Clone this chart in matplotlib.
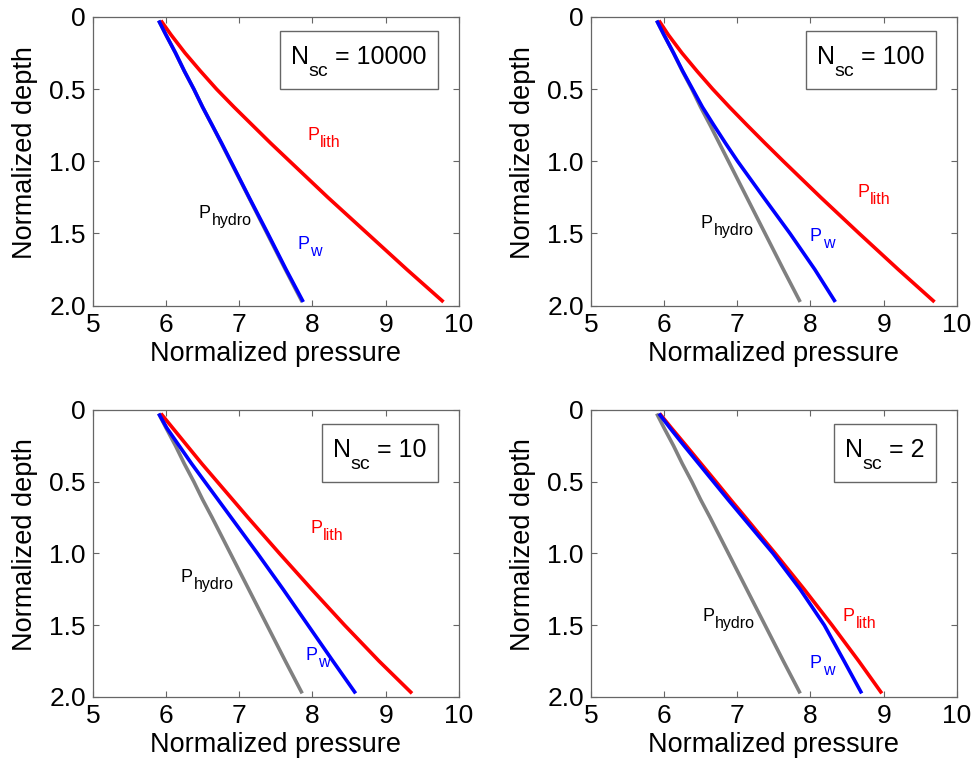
import matplotlib
matplotlib.use("Agg")
import matplotlib.pyplot as plt
from matplotlib.patches import Rectangle

plt.rcParams['font.family'] = ['Liberation Sans', 'DejaVu Sans']

# depth samples (normalized)
depth = [0.025, 0.125, 0.25, 0.375, 0.5, 0.625, 0.75, 0.875, 1.0, 1.25, 1.5, 1.75, 1.975]

# hydrostatic pressure, same in every panel
p_hydro = [5.90, 6.00, 6.13, 6.25, 6.38, 6.50, 6.63, 6.755, 6.88, 7.13, 7.38, 7.63, 7.86]

nsc_labels = ['10000', '100', '10', '2']

p_lith = {
    '10000': [5.93, 6.07, 6.26, 6.47, 6.69, 6.93, 7.18, 7.43, 7.69, 8.21, 8.75, 9.29, 9.79],
    '100':   [5.93, 6.06, 6.245, 6.45, 6.665, 6.895, 7.135, 7.38, 7.63, 8.14, 8.665, 9.20, 9.695],
    '10':    [5.93, 6.09, 6.29, 6.49, 6.70, 6.91, 7.12, 7.335, 7.55, 7.99, 8.44, 8.91, 9.36],
    '2':     [5.94, 6.10, 6.305, 6.507, 6.71, 6.91, 7.115, 7.317, 7.52, 7.915, 8.295, 8.66, 8.975],
}

p_w = {
    '10000': [5.90, 6.00, 6.13, 6.25, 6.38, 6.50, 6.63, 6.76, 6.885, 7.135, 7.39, 7.64, 7.875],
    '100':   [5.90, 6.00, 6.13, 6.255, 6.39, 6.525, 6.68, 6.84, 7.005, 7.36, 7.72, 8.06, 8.34],
    '10':    [5.90, 6.01, 6.18, 6.35, 6.53, 6.71, 6.89, 7.07, 7.25, 7.60, 7.94, 8.28, 8.59],
    '2':     [5.93, 6.08, 6.275, 6.475, 6.675, 6.875, 7.08, 7.285, 7.49, 7.86, 8.19, 8.46, 8.70],
}

# label anchors (x, depth) of the "P" baseline for P_lith, P_hydro, P_w
lab_lith = {'10000': (7.93, 0.85), '100': (8.64, 1.25), '10': (7.97, 0.86), '2': (8.44, 1.47)}
lab_hydro = {'10000': (6.45, 1.39), '100': (6.50, 1.46), '10': (6.20, 1.20), '2': (6.52, 1.47)}
lab_w = {'10000': (7.79, 1.61), '100': (7.99, 1.55), '10': (7.90, 1.74), '2': (7.99, 1.80)}

DPI = 100
fig = plt.figure(figsize=(9.74, 7.67), dpi=DPI)
renderer = fig.canvas.get_renderer()
px2pt = 72.0 / DPI

positions = [
    [0.0953, 0.6016, 0.3758, 0.3763],
    [0.6066, 0.6016, 0.3758, 0.3763],
    [0.0953, 0.0913, 0.3758, 0.3742],
    [0.6066, 0.0913, 0.3758, 0.3742],
]

spine_col = '#666666'


def text_width(ax, s, size):
    t = ax.text(0, 0, s, fontsize=size)
    w = t.get_window_extent(renderer).width
    t.remove()
    return w


def sub_label(ax, x, d, sub, color, size=13, subsize=11.5, drop=7):
    ax.text(x, d, 'P', color=color, fontsize=size, va='baseline', ha='left')
    wP = text_width(ax, 'P', size)
    ax.annotate(sub, xy=(x, d), xycoords='data',
                xytext=((wP + 1) * px2pt, -drop * px2pt), textcoords='offset points',
                color=color, fontsize=subsize, va='baseline', ha='left')


def nsc_box(ax, value):
    # box anchored at top-right corner in axes fraction
    ax_w = ax.get_window_extent(renderer).width
    ax_h = ax.get_window_extent(renderer).height
    right, top = 0.943, 1 - 14 / ax_h
    pad, box_h = 11, 58
    wN = text_width(ax, 'N', 18)
    wsc = text_width(ax, 'sc', 14)
    wrest = text_width(ax, '= ' + value, 18)
    gap = 7
    W = wN + wsc + gap + wrest
    x0 = -(W + pad)
    ax.annotate('N', xy=(right, top), xycoords='axes fraction',
                xytext=(x0 * px2pt, -33 * px2pt), textcoords='offset points',
                fontsize=18, va='baseline', ha='left')
    ax.annotate('sc', xy=(right, top), xycoords='axes fraction',
                xytext=((x0 + wN) * px2pt, -45 * px2pt), textcoords='offset points',
                fontsize=14, va='baseline', ha='left')
    ax.annotate('= ' + value, xy=(right, top), xycoords='axes fraction',
                xytext=((x0 + wN + wsc + gap) * px2pt, -33 * px2pt), textcoords='offset points',
                fontsize=18, va='baseline', ha='left')
    bw = (W + 2 * pad) / ax_w
    bh = box_h / ax_h
    ax.add_patch(Rectangle((right - bw, top - bh), bw, bh, transform=ax.transAxes,
                           fill=False, ec=spine_col, lw=1.0, zorder=5))


for pos, key in zip(positions, nsc_labels):
    ax = fig.add_axes(pos)
    ax.plot(p_hydro, depth, color='#808080', lw=2.6, solid_capstyle='butt')
    ax.plot(p_lith[key], depth, color='#ff0000', lw=2.6, solid_capstyle='butt')
    ax.plot(p_w[key], depth, color='#0000ff', lw=2.6, solid_capstyle='butt')

    ax.set_xlim(5, 10)
    ax.set_ylim(2, 0)
    ax.set_xticks([5, 6, 7, 8, 9, 10])
    ax.set_yticks([0, 0.5, 1.0, 1.5, 2.0])
    ax.set_yticklabels(['0', '0.5', '1.0', '1.5', '2.0'])
    ax.tick_params(direction='in', top=True, right=True, length=4, width=0.8,
                   color=spine_col, labelsize=19, pad=5)
    for s in ax.spines.values():
        s.set_color(spine_col)
        s.set_linewidth(0.9)

    ax.set_xlabel('Normalized pressure', fontsize=19.5, labelpad=3)
    ax.set_ylabel('Normalized depth', fontsize=19.5)
    ax.yaxis.set_label_coords(-0.15, 0.53)

    nsc_box(ax, key)

    x, d = lab_lith[key]
    sub_label(ax, x, d, 'lith', '#ff0000')
    x, d = lab_hydro[key]
    sub_label(ax, x, d, 'hydro', 'black')
    x, d = lab_w[key]
    sub_label(ax, x, d, 'w', '#0000ff')

fig.savefig('out.png', dpi=DPI)
